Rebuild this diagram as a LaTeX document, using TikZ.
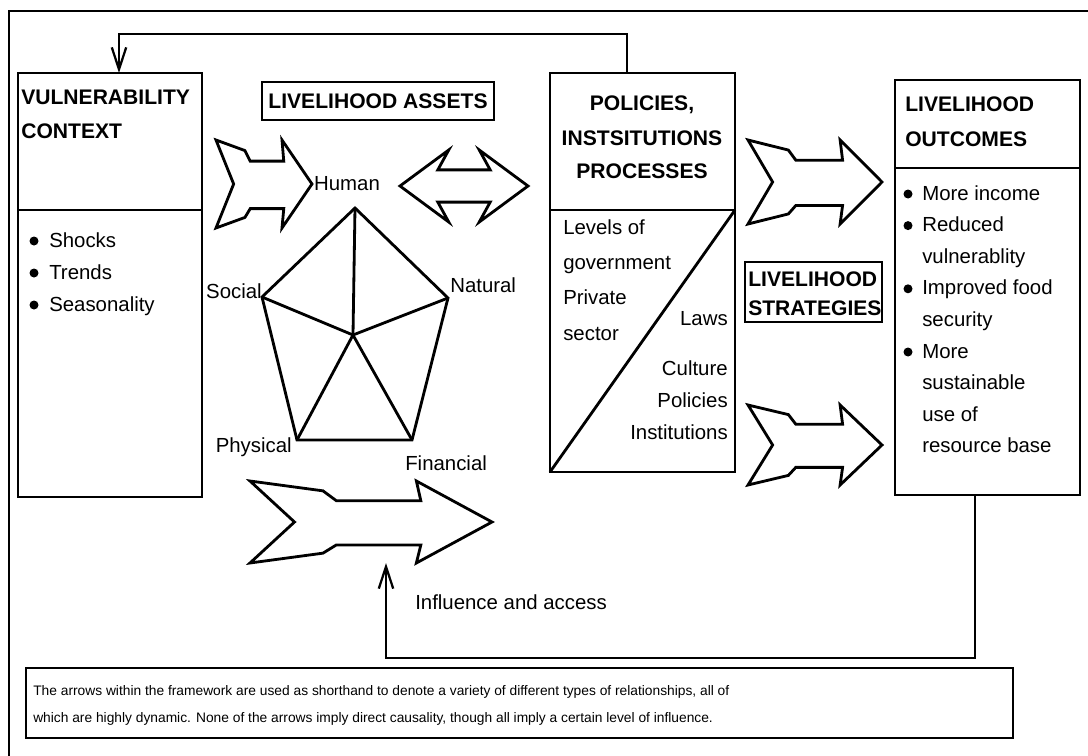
\documentclass[tikz,border=0pt]{standalone}
\usepackage{fontspec}
\setmainfont{Liberation Sans}
\usetikzlibrary{positioning, arrows.meta}
\tikzset{
  hdr/.style={font=\fontsize{15}{18}\selectfont\bfseries, inner sep=0pt},
  txt/.style={font=\fontsize{14.5}{17}\selectfont, inner sep=0pt},
  note/.style={font=\fontsize{9.8}{12}\selectfont, inner sep=0pt},
  box/.style={line width=2pt},
  fat/.style={line width=2pt},
  link/.style={line width=1.6pt, -{Straight Barb[length=5.5mm,width=3.6mm]}}
}
\begin{document}
\begin{tikzpicture}[x=0.025cm, y=-0.025cm]
\useasboundingbox (0,0) rectangle (1088,756);
% Outer frame
\draw[line width=1.3pt] (9,756) -- (9,11) -- (1088,11);
% Vulnerability context
\draw[box] (18,73) rectangle (202,210);
\draw[box] (18,210) rectangle (202,497);
\node[hdr, anchor=base west] (vuln1) at (21,104) {VULNERABILITY};
\node[hdr, anchor=base west] (vuln2) at (21,138) {CONTEXT};
\foreach \y/\t in {247/Shocks, 279/Trends, 311/Seasonality} {
    \fill (34,\y-6) circle (4.5);
    \node[txt, anchor=base west] (vuln-\y) at (49,\y) {\t};
}
% Livelihood assets
\draw[box] (262,82) rectangle (494,120);
\node[hdr] (assets) at (378,101) {LIVELIHOOD ASSETS};
% Pentagon
\coordinate (hum) at (355,208);
\coordinate (nat) at (448,298);
\coordinate (fin) at (412,440);
\coordinate (phy) at (297,440);
\coordinate (soc) at (262,297);
\coordinate (hub) at (353,335);
\draw[fat] (hum) -- (nat) -- (fin) -- (phy) -- (soc) -- cycle;
\foreach \v in {hum,nat,fin,phy,soc}
    \draw[fat] (hub) -- (\v);
\node[txt] (human) at (347,184) {Human};
\node[txt, anchor=base east] (social) at (262,298) {Social};
\node[txt, anchor=base west] (natural) at (450,292) {Natural};
\node[txt, anchor=base east] (physical) at (292,452) {Physical};
\node[txt, anchor=base west] (financial) at (405,470) {Financial};
% Fat arrows
\foreach \bx/\by/\bw/\bh in {216/184/96/88, 748/182/134/84, 748/445/134/80, 250/522/242/82}
    \draw[fat, shift={(\bx,\by)}, xscale={\bw/272}, yscale={\bh/250}]
        (0,-125) -- (82,-95) -- (97,-65) -- (192,-65) -- (187,-125) -- (272,0)
        -- (187,125) -- (192,70) -- (97,70) -- (82,95) -- (0,125) -- (50,0) -- cycle;
% Double arrow
\draw[fat, shift={(400,186)}, xscale={128/352}, yscale={72/210}]
    (0,0) -- (134,-105) -- (104,-47) -- (248,-47) -- (218,-105) -- (352,0)
    -- (218,105) -- (248,47) -- (104,47) -- (134,105) -- cycle;
% Policies, institutions, processes
\draw[box] (550,73) rectangle (735,210);
\draw[box] (550,210) rectangle (735,472);
\draw[fat] (550,472) -- (735,210);
\node[hdr, anchor=base] (pol1) at (642,110) {POLICIES,};
\node[hdr, anchor=base] (pol2) at (642,145) {INSTSITUTIONS};
\node[hdr, anchor=base] (pol3) at (642,178) {PROCESSES};
\node[txt, anchor=base west] (levels) at (563,234) {Levels of};
\node[txt, anchor=base west] (govt) at (563,269) {government};
\node[txt, anchor=base west] (private) at (563,304) {Private};
\node[txt, anchor=base west] (sector) at (563,340) {sector};
\node[txt, anchor=base east] (laws) at (728,325) {Laws};
\node[txt, anchor=base east] (culture) at (728,375) {Culture};
\node[txt, anchor=base east] (policies) at (728,407) {Policies};
\node[txt, anchor=base east] (instit) at (728,439) {Institutions};
% Livelihood strategies
\draw[box] (745,262) rectangle (882,322);
\node[hdr, anchor=base west] (strat1) at (748,286) {LIVELIHOOD};
\node[hdr, anchor=base west] (strat2) at (748,315) {STRATEGIES};
% Livelihood outcomes
\draw[box] (895,80) rectangle (1080,168);
\draw[box] (895,168) rectangle (1080,495);
\node[hdr, anchor=base west] (out1) at (905,111) {LIVELIHOOD};
\node[hdr, anchor=base west] (out2) at (905,146) {OUTCOMES};
\foreach \i/\t/\b in {0/More income/1, 1/Reduced/1, 2/vulnerablity/0, 3/Improved food/1,
                      4/security/0, 5/More/1, 6/sustainable/0, 7/use of/0, 8/resource base/0} {
    \pgfmathsetmacro{\yy}{200+31.6*\i}
    \ifnum\b=1 \fill (908,\yy-6) circle (4.5); \fi
    \node[txt, anchor=base west] (out-\i) at (922,\yy) {\t};
}
% Feedback and influence links
\coordinate (pol-top) at (627,73);
\coordinate (vuln-top) at (119,73);
\coordinate (out-bot) at (975,495);
\coordinate (arr-bot) at (386,563);
\draw[link] (pol-top) -- ++(0,-39) -| (vuln-top);
\draw[link] (out-bot) -- ++(0,163) -| (arr-bot);
\node[txt, anchor=base west] (influence) at (415,609) {Influence and access};
% Note
\draw[line width=1pt] (26,668) rectangle (1013,738);
\node[note, anchor=base west] (note1) at (33,695) {The arrows within the framework are used as shorthand to denote a variety of different types of relationships, all of};
\node[note, anchor=base west] (note2) at (33,722) {which are highly dynamic. None of the arrows imply direct causality, though all imply a certain level of influence.};
\end{tikzpicture}
\end{document}
